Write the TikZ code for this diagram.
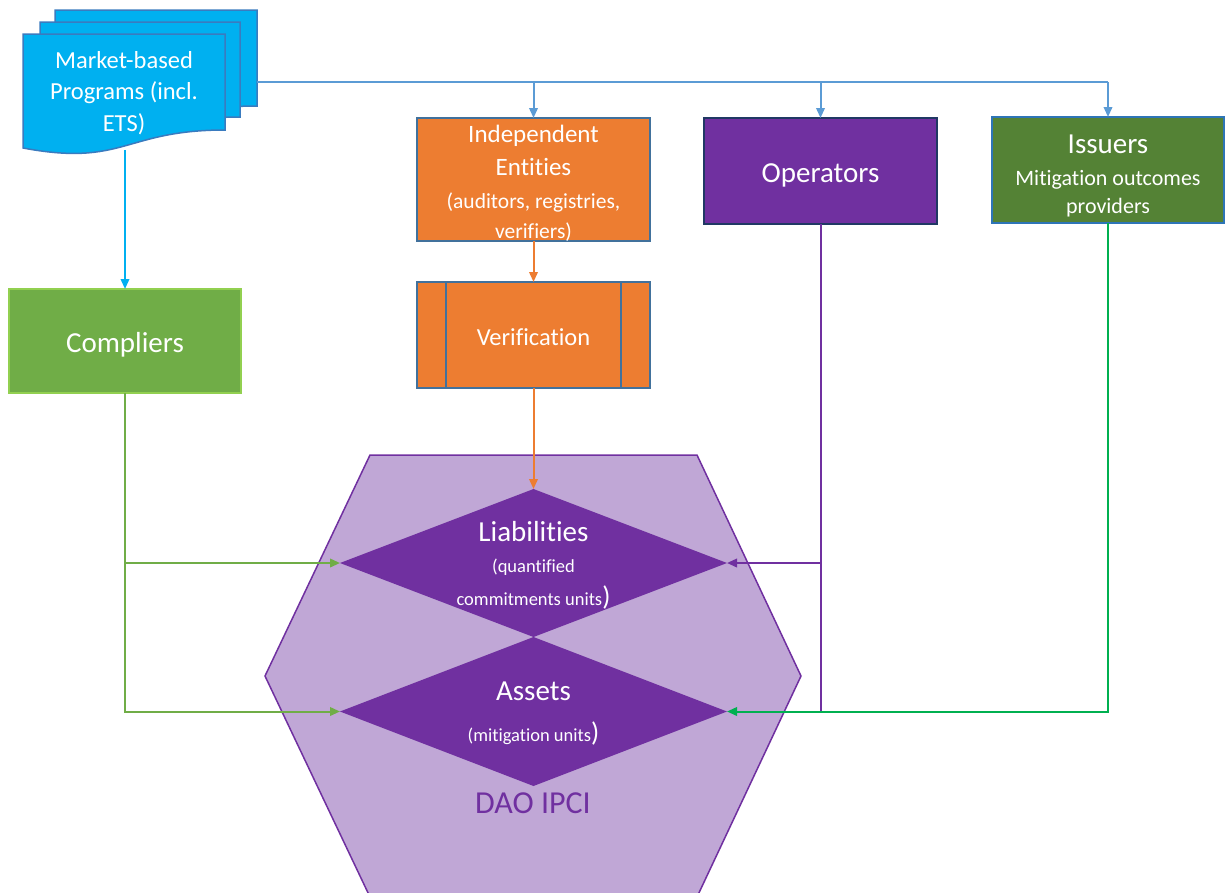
\documentclass[tikz,border=0pt]{standalone}
\usepackage{fontspec}
\setmainfont{Carlito}[Ligatures=NoCommon]
\usetikzlibrary{arrows.meta,shapes.geometric}
\definecolor{docFill}{HTML}{00B0F0}
\definecolor{docBorder}{HTML}{3A7BBF}
\definecolor{busBlue}{HTML}{5B9BD5}
\definecolor{orangeC}{HTML}{ED7D31}
\definecolor{boxBorder}{HTML}{41719C}
\definecolor{opFill}{HTML}{7030A0}
\definecolor{opBorder}{HTML}{203864}
\definecolor{issFill}{HTML}{548235}
\definecolor{issBorder}{HTML}{2E75B6}
\definecolor{compFill}{HTML}{70AD47}
\definecolor{compBorder}{HTML}{92D050}
\definecolor{hexFill}{HTML}{C0A7D6}
\definecolor{purpleC}{HTML}{7030A0}
\definecolor{greenC}{HTML}{70AD47}
\definecolor{green2}{HTML}{00B050}
\tikzset{
  box/.style={draw, line width=1.5pt, inner sep=0pt, outer sep=0pt, anchor=north west},
  lbl/.style={text=white, align=center, inner sep=0pt},
  wire/.style={line width=2pt},
  conn/.style={line width=2pt, -{Triangle[length=10pt,width=8.5pt]}},
  dia/.style={diamond, fill=purpleC, inner sep=0pt, outer sep=0pt, minimum width=387pt},
  docshape/.style={fill=docFill, draw=docBorder, line width=1.5pt},
}
\newcommand{\smallf}{\fontsize{18.5}{20}\selectfont}
\newcommand{\bigparen}{\fontsize{27}{30}\selectfont)}
\begin{document}
\begin{tikzpicture}[x=1pt,y=-1pt]
\useasboundingbox (0,0) rectangle (1225,892);
% hexagon
\begin{scope}
\clip (0,0) rectangle (1225,892);
\draw[fill=hexFill, draw=purpleC, line width=1.5pt]
  (370,455) -- (697,455) -- (801,676) -- (697,897) -- (370,897) -- (265,676) -- cycle;
\end{scope}
\node[purpleC, font=\fontsize{32}{36}\selectfont] (dao) at (533,803) {DAO IPCI};
% diamonds
\node[dia, minimum height=148pt] (liab) at (533.5,563) {};
\node[dia, minimum height=149pt] (assets) at (533.5,711.5) {};
\node[lbl, font=\fontsize{29}{31}\selectfont] (liabT) at (533.5,565) {Liabilities\\
  \smallf(quantified\\[2pt]
  \smallf commitments units\bigparen};
\node[lbl, font=\fontsize{29}{35}\selectfont] (assetsT) at (533.5,714) {Assets\\[6pt]
  \smallf(mitigation units\bigparen};
% multi-document
\draw[docshape] (55,10) -- (257,10) -- (257,106) .. controls (156,106) and (156,143) .. (55,122) -- cycle;
\draw[docshape] (40,22) -- (240,22) -- (240,117) .. controls (140,117) and (140,154) .. (40,133) -- cycle;
\draw[docshape] (23,34) -- (225,34) -- (225,130) .. controls (124,130) and (124,167) .. (23,148) -- cycle;
\node[lbl, font=\fontsize{24.5}{31.5}\selectfont] (mbp) at (124,93) {Market-based\\Programs (incl.\\ETS)};
\coordinate (docbot) at (125,150);
\coordinate (busL) at (257,82);
% boxes
\node[box, fill=compFill, draw=compBorder, minimum width=232pt, minimum height=104pt] (compl) at (9,289) {};
\node[lbl, font=\fontsize{29}{32}\selectfont] (complT) at ([yshift=-4pt]compl.center) {Compliers};
\node[box, fill=orangeC, draw=boxBorder, minimum width=233pt, minimum height=123pt] (indep) at (417,118) {};
\node[lbl, font=\fontsize{25}{33}\selectfont] (indepT) at (533.5,183) {Independent\\Entities\\
  \fontsize{21.5}{26}\selectfont(auditors, registries,\\[-3pt]
  \fontsize{21.5}{26}\selectfont verifiers)};
\node[box, fill=orangeC, draw=boxBorder, minimum width=233pt, minimum height=106pt] (verif) at (417,282) {};
\draw[draw=boxBorder, line width=1.5pt] ([xshift=29pt]verif.north west) -- ([xshift=29pt]verif.south west);
\draw[draw=boxBorder, line width=1.5pt] ([xshift=-29pt]verif.north east) -- ([xshift=-29pt]verif.south east);
\node[lbl, font=\fontsize{24.5}{28}\selectfont] (verifT) at ([yshift=-2pt]verif.center) {Verification};
\node[box, fill=opFill, draw=opBorder, minimum width=233pt, minimum height=106pt] (op) at (704,118) {};
\node[lbl, font=\fontsize{29}{32}\selectfont] (opT) at ([yshift=-4pt]op.center) {Operators};
\node[box, fill=issFill, draw=issBorder, minimum width=232pt, minimum height=106pt] (iss) at (992,117) {};
\node[lbl, font=\fontsize{29}{30}\selectfont] (issT) at (1108,176) {Issuers\\[2pt]
  \fontsize{22}{28}\selectfont Mitigation outcomes\\[-2pt]
  \fontsize{22}{28}\selectfont providers};
% connectors: bus from programs
\draw[wire, busBlue] (busL) -- (iss.north |- busL);
\draw[conn, busBlue] (iss.north |- busL) -- (iss.north);
\draw[conn, busBlue] (indep.north |- busL) -- (indep.north);
\draw[conn, busBlue] (op.north |- busL) -- (op.north);
\draw[conn, docFill] (docbot) -- (compl.north);
% orange chain
\draw[conn, orangeC] (indep.south) -- (verif.north);
\draw[conn, orangeC] (verif.south) -- (liab.north);
% compliers
\draw[conn, greenC] (compl.south) |- (assets.west);
\draw[conn, greenC] (compl.south |- liab.west) -- (liab.west);
% operators
\draw[wire, purpleC] (op.south) -- (op.south |- assets.east);
\draw[conn, purpleC] (op.south |- liab.east) -- (liab.east);
% issuers
\draw[conn, green2] (iss.south) |- (assets.east);
\end{tikzpicture}
\end{document}
